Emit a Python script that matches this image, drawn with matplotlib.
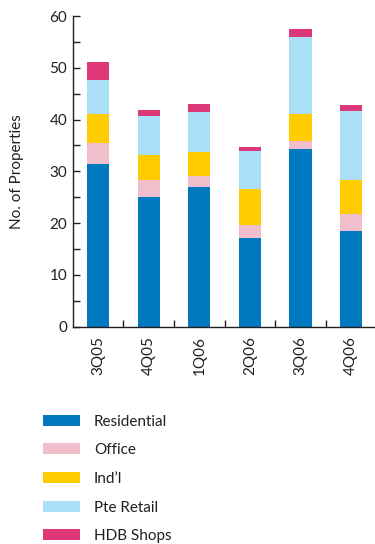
import numpy as np
import matplotlib.pyplot as plt
from matplotlib.patches import Patch

quarters = ['3Q05', '4Q05', '1Q06', '2Q06', '3Q06', '4Q06']
residential = [31.5, 25.0, 27.0, 17.2, 34.3, 18.5]
office = [4.0, 3.4, 2.2, 2.5, 1.6, 3.3]
indl = [5.6, 4.8, 4.6, 6.9, 5.2, 6.5]
pte_retail = [6.5, 7.5, 7.7, 7.4, 14.8, 13.4]
hdb_shops = [3.5, 1.1, 1.5, 0.8, 1.6, 1.1]

series = [residential, office, indl, pte_retail, hdb_shops]
names = ['Residential', 'Office', 'Ind\u2019l', 'Pte Retail', 'HDB Shops']
colors = ['#0079c1', '#f0bfcb', '#ffcc00', '#aadff8', '#dc3878']

plt.rcParams['font.family'] = ['Lato', 'DejaVu Sans']
txt = '#231f20'
fs = 11

fig = plt.figure(figsize=(3.75, 5.44), dpi=100)
ax = fig.add_axes([0.194, 0.3995, 0.81, 0.571])

x = np.arange(len(quarters))
bottom = np.zeros(len(quarters))
for vals, c in zip(series, colors):
    ax.bar(x, vals, width=0.44, bottom=bottom, color=c, linewidth=0)
    bottom += np.array(vals)

ax.set_xlim(-0.5, 5.5)
ax.set_ylim(0, 60)
ax.set_yticks(range(0, 61, 10))
ax.set_yticks(range(5, 60, 10), minor=True)
ax.set_xticks(x)
ax.set_xticklabels(quarters, rotation=90)
ax.set_xticks(np.arange(0.5, 5, 1), minor=True)
ax.tick_params(axis='x', which='major', length=0, pad=7, labelsize=fs, labelcolor=txt)
ax.tick_params(axis='x', which='minor', direction='in', length=5, width=1, color=txt)
ax.tick_params(axis='y', which='both', direction='in', length=5, width=1, color=txt,
               labelsize=fs, labelcolor=txt, pad=4)
for s in ['top', 'right']:
    ax.spines[s].set_visible(False)
for s in ['left', 'bottom']:
    ax.spines[s].set_color(txt)
    ax.spines[s].set_linewidth(1)
ax.set_ylabel('No. of Properties', fontsize=fs, color=txt, labelpad=18)

handles = [Patch(facecolor=c, edgecolor='none') for c in colors]
fig.legend(handles, names, loc='upper left', bbox_to_anchor=(0.094, 0.252),
           frameon=False, fontsize=fs, labelcolor=txt, handlelength=2.4,
           handleheight=0.75, labelspacing=0.96, handletextpad=0.95, borderpad=0)

fig.savefig('out.png', dpi=100)
